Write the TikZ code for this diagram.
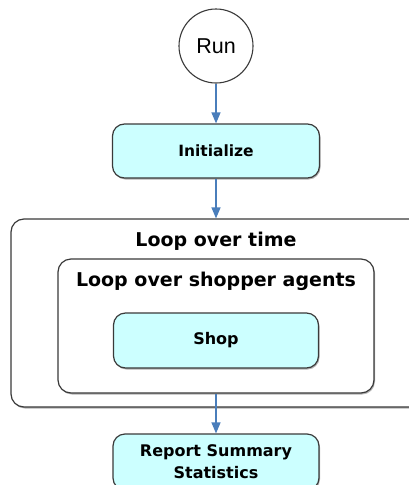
\documentclass[tikz,border=0pt]{standalone}
\usepackage{fontspec}
\setmainfont{Liberation Sans}
\newfontfamily\labelfont{DejaVu Sans}
\usetikzlibrary{arrows.meta,shadows}
\definecolor{stepfill}{HTML}{CCFFFF}
\definecolor{flowblue}{HTML}{4A7EBB}
\definecolor{edgegray}{HTML}{3A3A3A}
\tikzset{
  boxshadow/.style={drop shadow={shadow xshift=1pt,shadow yshift=-1.5pt,fill=black!30,opacity=1}},
  stepbox/.style={draw=edgegray,line width=1.2pt,fill=stepfill,rounded corners=12pt,
    inner sep=0pt,align=center,boxshadow,
    font=\labelfont\bfseries\fontsize{15.5}{21.5}\selectfont},
  loopbox/.style={draw=edgegray,line width=1.2pt,fill=white,rounded corners=13pt,
    inner sep=0pt,boxshadow},
  looptitle/.style={inner sep=0pt,font=\labelfont\bfseries\fontsize{19}{22}\selectfont},
  flow/.style={draw=flowblue,line width=1.3pt,-{Triangle[length=11pt,width=9pt]}},
}
\begin{document}
\begin{tikzpicture}[x=1pt,y=-1pt]
\useasboundingbox (0,0) rectangle (409,485);
\clip (0,0) rectangle (409,485);
% start terminal
\node[circle,draw=edgegray,line width=1.1pt,fill=white,minimum size=74pt,inner sep=0pt,
  font=\fontsize{21.5}{24}\selectfont] (run) at (216,46) {Run};
% initialization step
\node[stepbox,minimum width=207pt,minimum height=54pt] (init) at (216,151) {Initialize};
% outer loop frame (runs off the right edge)
\node[loopbox,minimum width=430pt,minimum height=188pt] (outer) at (226,313) {};
\node[looptitle] (outertitle) at (216,241) {Loop over time};
% inner loop frame
\node[loopbox,minimum width=316pt,minimum height=134pt] (inner) at (216,326) {};
\node[looptitle] (innertitle) at (216,281) {Loop over shopper agents};
% loop body
\node[stepbox,minimum width=205pt,minimum height=55pt,font=\labelfont\bfseries\fontsize{16}{21.5}\selectfont] (shop) at (216,340.5) {Shop};
% final step
\node[stepbox,minimum width=206pt,minimum height=56pt,font=\labelfont\bfseries\fontsize{16}{22}\selectfont] (report) at (216,462) {Report Summary\\Statistics};
% connectors
\draw[flow] (run.south) -- (init.north);
\draw[flow] (init.south) -- (init.south |- outer.north);
\draw[flow] (inner.south) -- (report.north);
\end{tikzpicture}
\end{document}
